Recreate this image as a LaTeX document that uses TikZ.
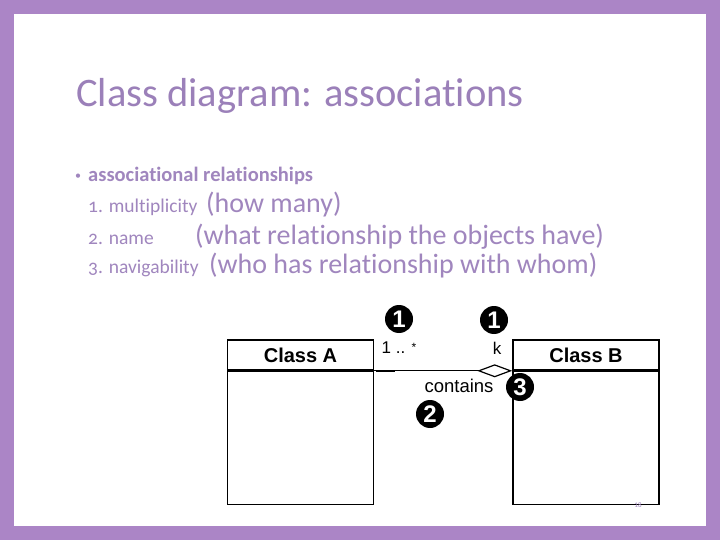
\documentclass[tikz,border=0pt]{standalone}
\usepackage{fontspec}
\setmainfont{Carlito}[Ligatures=NoCommon]
\newfontfamily\oldnum{Carlito}[Numbers=OldStyle,Ligatures=NoCommon]
\newfontfamily\arialf{Liberation Sans}
\usetikzlibrary{arrows.meta,positioning}
\definecolor{frame}{RGB}{171,133,198}
\definecolor{titlec}{RGB}{155,128,185}
\definecolor{bodyc}{RGB}{160,134,190}
\tikzset{
  classhead/.style={draw=black, line width=1.6pt, minimum width=146pt, minimum height=30pt, inner sep=0pt, font=\arialf\bfseries\fontsize{20}{22}\selectfont},
  classbody/.style={draw=black, line width=1.6pt, minimum width=146pt, minimum height=133pt, inner sep=0pt},
  numcirc/.style={circle, fill=black, text=white, minimum size=28pt, inner sep=0pt, font=\arialf\bfseries\fontsize{24}{24}\selectfont},
  umltext/.style={inner sep=0pt, font=\arialf\fontsize{17}{18}\selectfont},
  smalltxt/.style={anchor=base west, inner sep=0pt, text=bodyc, font=\oldnum\fontsize{19.5}{20}\selectfont},
  bigtxt/.style={anchor=base west, inner sep=0pt, text=bodyc, font=\fontsize{28}{30}\selectfont},
}
\begin{document}
\begin{tikzpicture}[x=1pt,y=-1pt]
\useasboundingbox (0,0) rectangle (720,540);
% frame
\fill[frame] (0,0) rectangle (720,540);
\fill[white] (14,14) rectangle (706,526);
% title
\node[anchor=base west, inner sep=0pt, text=titlec, font=\fontsize{40.5}{44}\selectfont] (title) at (76,107) {Class diagram: associations};
% bullet
\node[anchor=base west, inner sep=0pt, text=bodyc, font=\fontsize{12}{14}\selectfont] (dot) at (75,180) {\textbullet};
\node[anchor=base west, inner sep=0pt, text=bodyc, font=\bfseries\fontsize{20.5}{22}\selectfont] (bul) at (88,182) {associational relationships};
\node[smalltxt] (m1) at (88,213) {1. multiplicity};
\node[bigtxt] (d1) at (206,213) {(how many)};
\node[smalltxt] (m2) at (88,244) {2. name};
\node[bigtxt] (d2) at (195,244) {(what relationship the objects have)};
\node[smalltxt] (m3) at (88,273) {3. navigability};
\node[bigtxt] (d3) at (209,273) {(who has relationship with whom)};
% classes
\node[classhead] (ah) at (300.5,355) {Class A};
\node[classbody, anchor=north] (ab) at (ah.south) {};
\node[classhead] (bh) at (586,355) {Class B};
\node[classbody, anchor=north] (bb) at (bh.south) {};
% association
\draw[line width=1.2pt, -{Diamond[open, fill=white, length=35pt, width=13pt, line width=1.2pt]}] (ah.south east) -- (bh.south west);
\coordinate (t1) at (376,370.5);
\coordinate (t2) at (395,370.5);
\draw[line width=2pt] (t1) -- (t2);
% labels
\node[umltext] (mulA) at (399,348) {1 .. \raisebox{2pt}{\fontsize{12}{12}\selectfont *}};
\node[umltext] (mulB) at (497,348) {k};
\node[umltext, font=\arialf\fontsize{18.5}{20}\selectfont] (cont) at (459,386) {contains};
% numbered circles
\node[numcirc] (c1) at (399,319) {1};
\node[numcirc] (c2) at (494,320) {1};
\node[numcirc] (c3) at (430,414) {2};
\node[numcirc] (c4) at (520,387) {3};
% page number
\node[inner sep=0pt, text=bodyc, font=\fontsize{7}{8}\selectfont] (pg) at (638,505) {18};
\end{tikzpicture}
\end{document}
